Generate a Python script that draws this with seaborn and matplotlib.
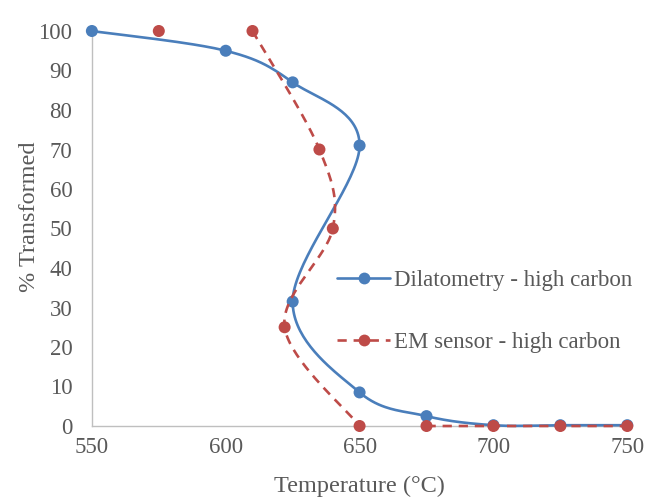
import numpy as np
import pandas as pd
import matplotlib
matplotlib.use("Agg")
import matplotlib.pyplot as plt
import seaborn as sns
from matplotlib.lines import Line2D

dil_temp = [550, 600, 625, 650, 625, 650, 675, 700, 725, 750]
dil_pct = [100, 95, 87, 71, 31.5, 8.5, 2.5, 0.2, 0.2, 0.2]
em_temp = [575, np.nan, 610, 635, 640, 622, 650, np.nan, 675, 700, 725, 750]
em_pct = [100, np.nan, 100, 70, 50, 25, 0, np.nan, 0, 0, 0, 0]

x_ticks = [550, 600, 650, 700, 750]
y_ticks = list(range(0, 101, 10))

BLUE = "#4A7EBB"
RED = "#BE4B48"
TXT = "#595959"
FS = 16.5
FS_T = 17.5


def catmull(xs, ys, n=40):
    xs = np.asarray(xs, float); ys = np.asarray(ys, float)
    if len(xs) < 2:
        return xs, ys
    P = np.column_stack([xs, ys])
    P = np.vstack([P[0], P, P[-1]])
    out = []
    t = np.linspace(0, 1, n)[:, None]
    for i in range(1, len(P) - 2):
        p0, p1, p2, p3 = P[i - 1], P[i], P[i + 1], P[i + 2]
        c1 = p1 + (p2 - p0) / 6
        c2 = p2 - (p3 - p1) / 6
        seg = ((1 - t) ** 3) * p1 + 3 * ((1 - t) ** 2) * t * c1 + 3 * (1 - t) * t ** 2 * c2 + t ** 3 * p2
        out.append(seg)
    S = np.vstack(out)
    return S[:, 0], S[:, 1]


def smooth_with_gaps(xs, ys):
    xs = np.asarray(xs, float); ys = np.asarray(ys, float)
    rx, ry = [], []
    cur_x, cur_y = [], []
    for a, b in zip(list(xs) + [np.nan], list(ys) + [np.nan]):
        if np.isnan(a):
            if cur_x:
                sx, sy = catmull(cur_x, cur_y)
                rx += list(sx) + [np.nan]; ry += list(sy) + [np.nan]
            cur_x, cur_y = [], []
        else:
            cur_x.append(a); cur_y.append(b)
    return np.array(rx), np.array(ry)


sns.set_theme(style="white")
plt.rcParams["font.family"] = ["Liberation Serif", "DejaVu Serif"]

fig = plt.figure(figsize=(6.61, 5.0), dpi=100)
ax = fig.add_axes([0.139, 0.148, 0.81, 0.79])

bx, by = smooth_with_gaps(dil_temp, dil_pct)
rx, ry = smooth_with_gaps(em_temp, em_pct)

ax.plot(bx, by, color=BLUE, lw=1.9, solid_capstyle="round", zorder=3, clip_on=False)
sns.scatterplot(x=dil_temp, y=dil_pct, ax=ax, color=BLUE, s=75, edgecolor="none", zorder=4, clip_on=False)
ax.plot(rx, ry, color=RED, lw=1.9, dashes=(3.5, 2.6), zorder=5, clip_on=False)
df_em = pd.DataFrame({"t": em_temp, "p": em_pct}).dropna()
sns.scatterplot(data=df_em, x="t", y="p", ax=ax, color=RED, s=75, edgecolor="none", zorder=6, clip_on=False)

ax.set_xlim(550, 750)
ax.set_ylim(0, 100)
ax.set_xticks(x_ticks)
ax.set_yticks(y_ticks)
for sp in ["top", "right"]:
    ax.spines[sp].set_visible(False)
for sp in ["left", "bottom"]:
    ax.spines[sp].set_color("#BFBFBF")
    ax.spines[sp].set_linewidth(1.0)
    ax.spines[sp].set_zorder(1)
ax.tick_params(axis="y", labelsize=FS, colors=TXT, length=0, pad=14)
ax.tick_params(axis="x", labelsize=FS, colors=TXT, length=0, pad=8)
ax.set_xlabel("Temperature (°C)", fontsize=FS_T, color=TXT)
ax.set_ylabel("% Transformed", fontsize=FS_T, color=TXT)
ax.xaxis.set_label_coords(0.5, -0.125)
ax.yaxis.set_label_coords(-0.097, 0.53)
ax.grid(False)

handles = [
    Line2D([0], [0], color=BLUE, lw=1.9, marker="o", markersize=8.5, markeredgewidth=0),
    Line2D([0], [0], color=RED, lw=1.9, dashes=(3.5, 2.6), marker="o", markersize=8.5, markeredgewidth=0),
]
leg = ax.legend(handles, ["Dilatometry - high carbon", "EM sensor - high carbon"],
                loc="center left", bbox_to_anchor=(0.42, 0.29), frameon=False,
                fontsize=FS, labelspacing=1.75, handlelength=2.3, handletextpad=0.15)
for t in leg.get_texts():
    t.set_color(TXT)

fig.savefig("out.png", dpi=100, facecolor="white")
